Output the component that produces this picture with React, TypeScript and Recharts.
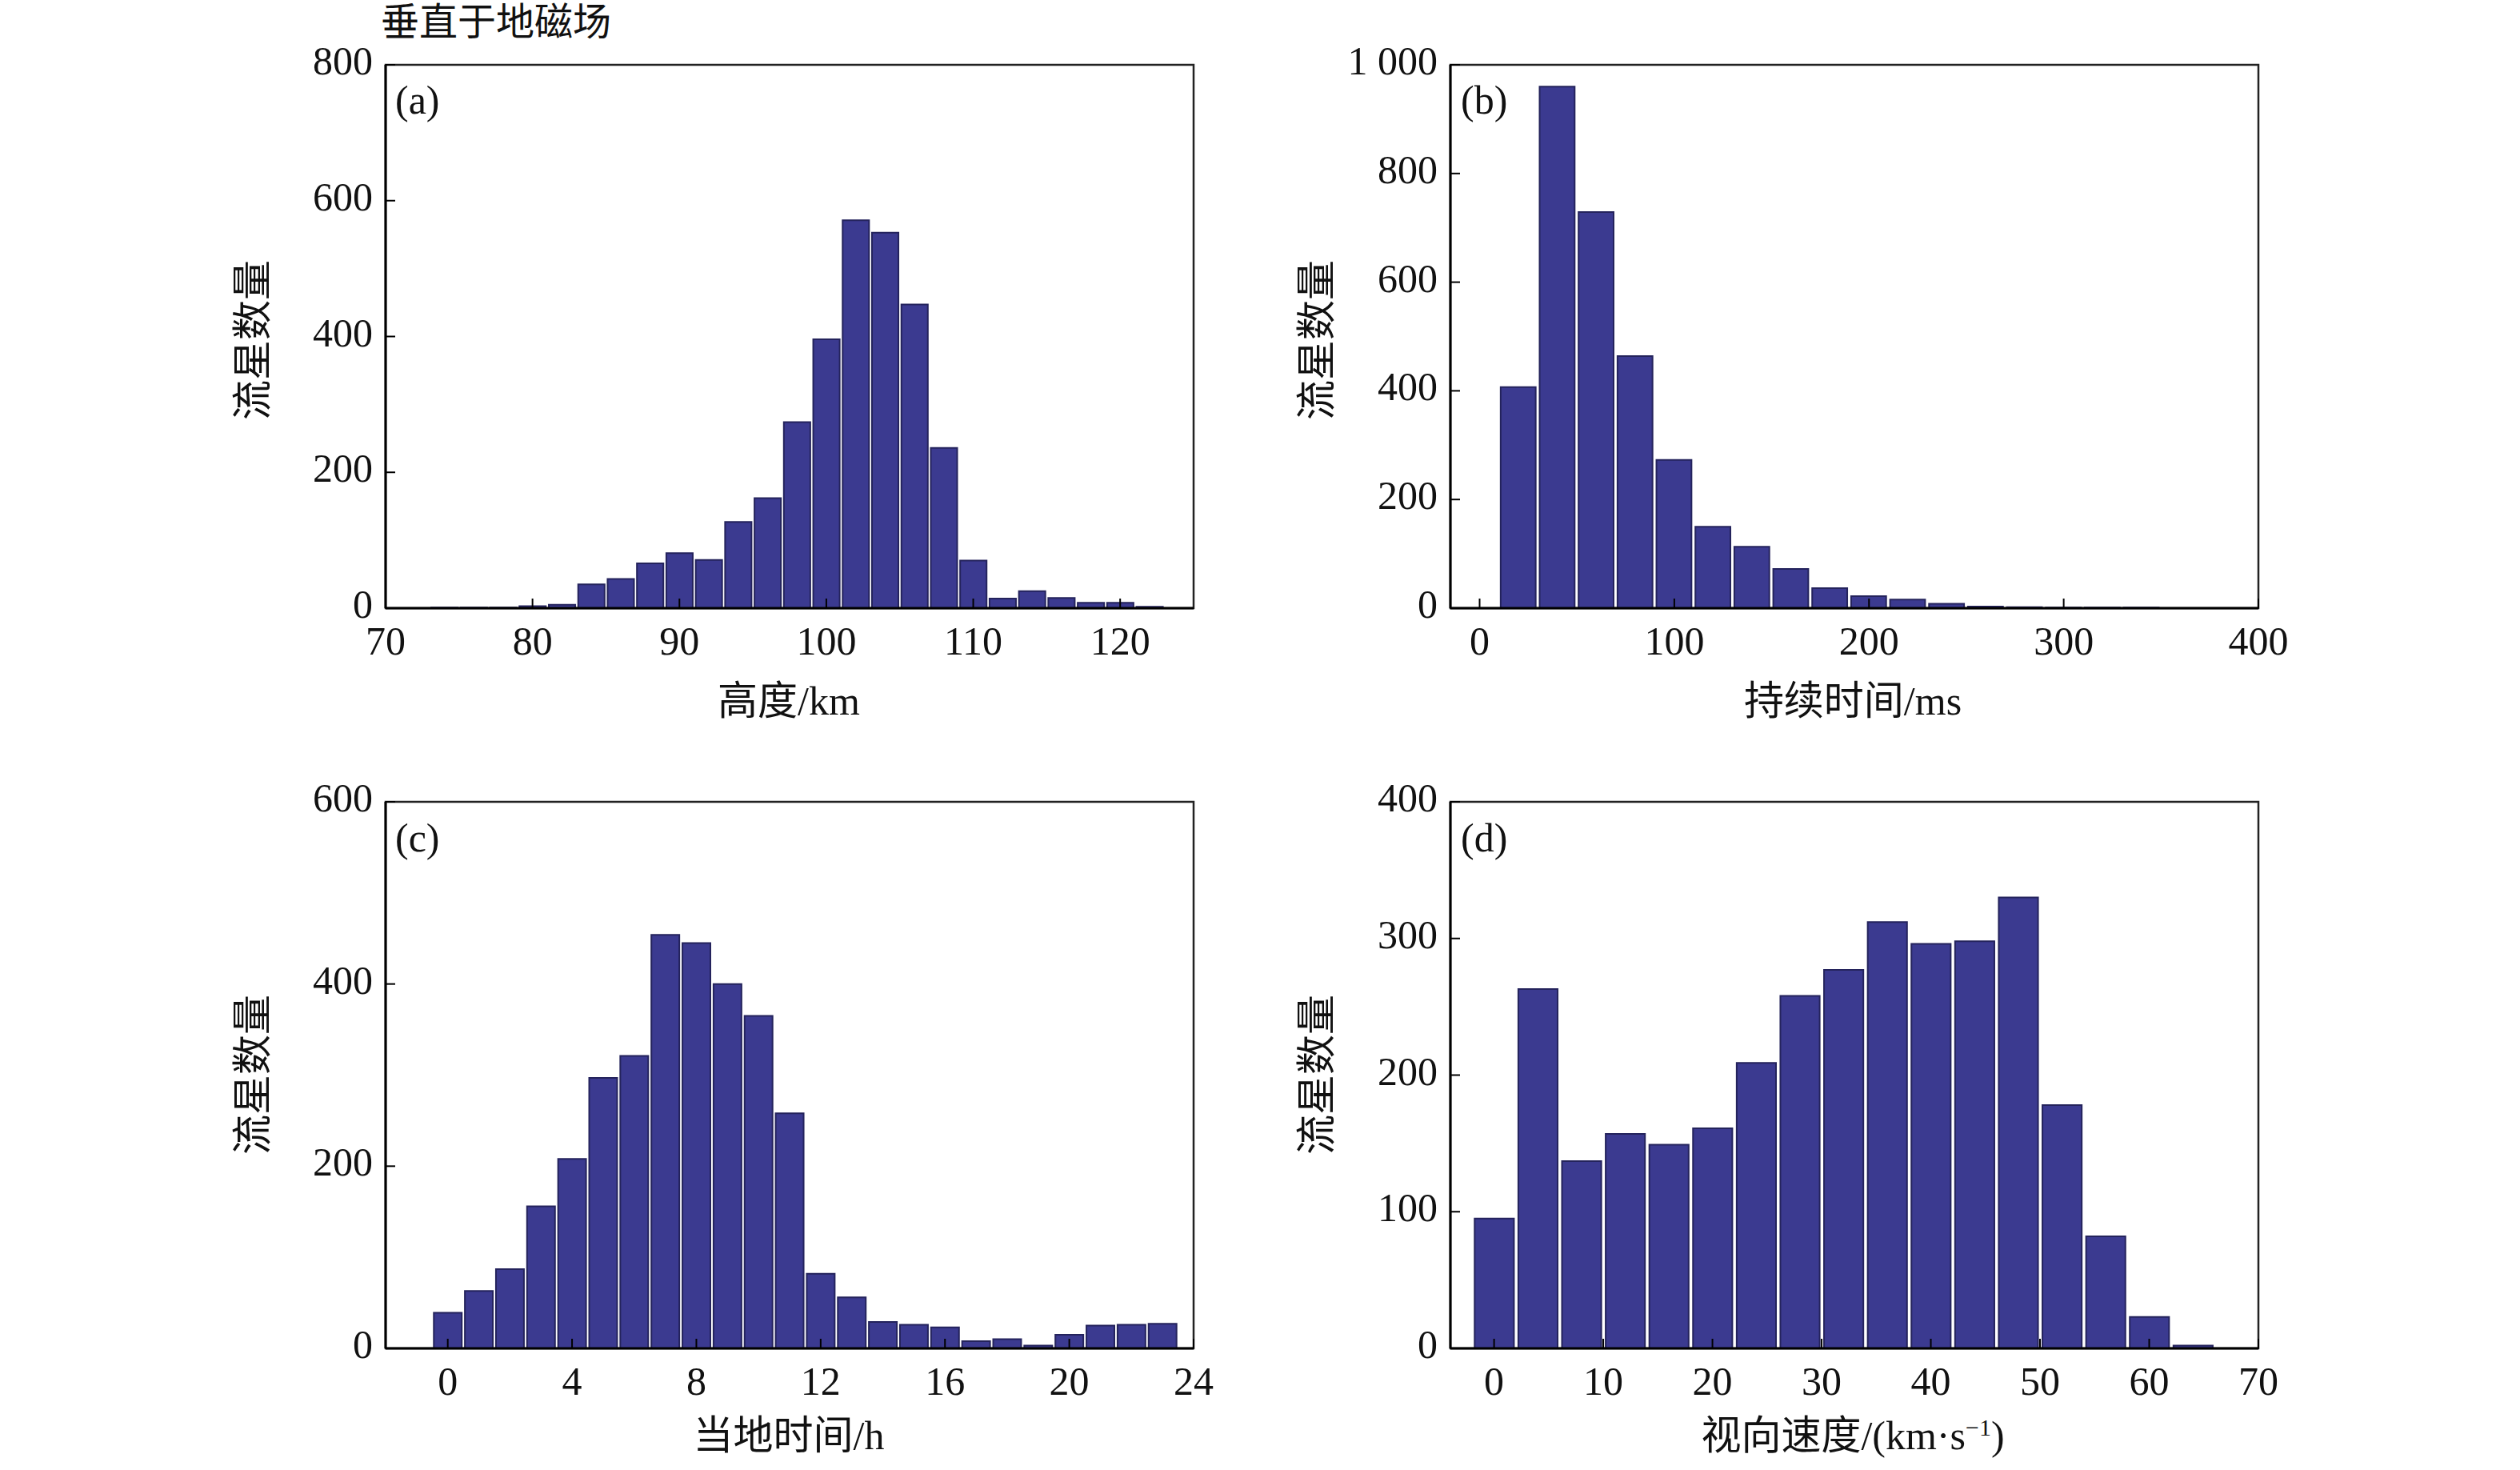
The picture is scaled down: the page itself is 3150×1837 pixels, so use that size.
import React from 'react';
import { BarChart, Bar, XAxis, YAxis, ReferenceArea } from 'recharts';

// (a) altitude, 2 km bins
const altCenters = [74, 76, 78, 80, 82, 84, 86, 88, 90, 92, 94, 96, 98, 100, 102, 104, 106, 108, 110, 112, 114, 116, 118, 120, 122];
const altCounts = [1, 1, 1, 3, 5, 35, 43, 66, 81, 71, 127, 162, 274, 396, 571, 553, 447, 236, 70, 14, 25, 15, 8, 8, 2];
const altTicks = [70, 80, 90, 100, 110, 120];

// (b) duration, 20 ms bins
const durCenters = [20, 40, 60, 80, 100, 120, 140, 160, 180, 200, 220, 240, 260, 280, 300, 320, 340];
const durCounts = [407, 960, 729, 464, 273, 150, 113, 72, 37, 22, 16, 8, 3, 2, 1, 1, 1];
const durTicks = [0, 100, 200, 300, 400];

// (c) local time, 1 h bins
const hourCenters = [0, 1, 2, 3, 4, 5, 6, 7, 8, 9, 10, 11, 12, 13, 14, 15, 16, 17, 18, 19, 20, 21, 22, 23];
const hourCounts = [39, 63, 87, 156, 208, 297, 321, 454, 445, 400, 365, 258, 82, 56, 29, 26, 23, 8, 10, 3, 15, 25, 26, 27];
const hourTicks = [0, 4, 8, 12, 16, 20, 24];

// (d) apparent velocity, 4 km/s bins
const velCenters = [0, 4, 8, 12, 16, 20, 24, 28, 32, 36, 40, 44, 48, 52, 56, 60, 64];
const velCounts = [95, 263, 137, 157, 149, 161, 209, 258, 277, 312, 296, 298, 330, 178, 82, 23, 2];
const velTicks = [0, 10, 20, 30, 40, 50, 60, 70];

const W = 3150;
const H = 1837;
const FONT = '"Liberation Serif", "Noto Sans CJK SC", serif';
const BAR_FILL = '#3b3a90';
const BAR_EDGE = '#24235c';

interface PanelProps {
  centers: number[];
  counts: number[];
  xDomain: [number, number];
  xTicks: number[];
  yMax: number;
  yTicks: number[];
  binWidth: number;
  left: number;
  right: number;
  top: number;
  bottom: number;
  yFormat?: (v: number) => string;
}

const Panel: React.FC<PanelProps> = ({ centers, counts, xDomain, xTicks, yMax, yTicks, binWidth, left, right, top, bottom, yFormat }) => {
  const data = centers.map((c, i) => ({ x: c, n: counts[i] }));
  const plotW = right - left;
  const barSize = (binWidth / (xDomain[1] - xDomain[0])) * plotW;
  const yAxisW = 100;
  const xAxisH = 60;
  const fmt = yFormat ?? ((v: number) => String(v));

  const xTick = (p: any) => (
    <g>
      <line x1={p.x} x2={p.x} y1={bottom} y2={bottom - 12} stroke="#000" strokeWidth={2} />
      <text x={p.x} y={bottom + 58} textAnchor="middle" fontFamily={FONT} fontSize={50} fill="#111">
        {p.payload.value}
      </text>
    </g>
  );
  const yTick = (p: any) => (
    <g>
      <line x1={left} x2={left + 12} y1={p.y} y2={p.y} stroke="#000" strokeWidth={2} />
      <text x={left - 16} y={p.y + 12} textAnchor="end" fontFamily={FONT} fontSize={50} fill="#111">
        {fmt(p.payload.value)}
      </text>
    </g>
  );

  return (
    <div style={{ position: 'absolute', left: 0, top: 0 }}>
      <BarChart
        width={W}
        height={H}
        data={data}
        margin={{ left: left - yAxisW, right: W - right, top, bottom: H - bottom - xAxisH }}
      >
        <XAxis
          dataKey="x"
          type="number"
          domain={xDomain}
          ticks={xTicks}
          allowDataOverflow
          height={xAxisH}
          tickLine={false}
          axisLine={{ stroke: '#000', strokeWidth: 3 }}
          tick={xTick}
          interval={0}
        />
        <YAxis
          domain={[0, yMax]}
          ticks={yTicks}
          allowDataOverflow
          width={yAxisW}
          tickLine={false}
          axisLine={{ stroke: '#000', strokeWidth: 3 }}
          tick={yTick}
          interval={0}
        />
        <Bar dataKey="n" fill={BAR_FILL} stroke={BAR_EDGE} strokeWidth={2} barSize={barSize} isAnimationActive={false} />
        <ReferenceArea x1={xDomain[0]} x2={xDomain[1]} y1={0} y2={yMax} fill="none" stroke="#222" strokeWidth={2.5} />
      </BarChart>
    </div>
  );
};

const txt = (s: string, x: number, y: number, size: number, extra: React.CSSProperties = {}) => (
  <div
    style={{
      position: 'absolute',
      left: x,
      top: y,
      fontFamily: FONT,
      fontSize: size,
      color: '#111',
      whiteSpace: 'nowrap',
      lineHeight: 1,
      ...extra,
    }}
  >
    {s}
  </div>
);

const yTitle = (x: number, y: number) =>
  txt('流星数量', x, y, 50, { transform: 'translate(-50%, -50%) rotate(-90deg)' });
const xTitle = (s: React.ReactNode, x: number, y: number) => (
  <div
    style={{
      position: 'absolute',
      left: x,
      top: y,
      transform: 'translate(-50%, -50%)',
      fontFamily: FONT,
      fontSize: 50,
      color: '#111',
      whiteSpace: 'nowrap',
      lineHeight: 1.1,
    }}
  >
    {s}
  </div>
);

export default function App() {
  return (
    <div style={{ position: 'absolute', left: 0, top: 0, width: W, height: H, background: '#fff', overflow: 'hidden' }}>
      <Panel centers={altCenters} counts={altCounts} xDomain={[70, 125]} xTicks={altTicks} yMax={800} yTicks={[0, 200, 400, 600, 800]} binWidth={2} left={482} right={1492} top={81} bottom={760} />
      <Panel centers={durCenters} counts={durCounts} xDomain={[-15, 400]} xTicks={durTicks} yMax={1000} yTicks={[0, 200, 400, 600, 800, 1000]} binWidth={20} left={1813} right={2823} top={81} bottom={760} yFormat={(v) => (v === 1000 ? '1 000' : String(v))} />
      <Panel centers={hourCenters} counts={hourCounts} xDomain={[-2, 24]} xTicks={hourTicks} yMax={600} yTicks={[0, 200, 400, 600]} binWidth={1} left={482} right={1492} top={1002} bottom={1685} />
      <Panel centers={velCenters} counts={velCounts} xDomain={[-4, 70]} xTicks={velTicks} yMax={400} yTicks={[0, 100, 200, 300, 400]} binWidth={4} left={1813} right={2823} top={1002} bottom={1685} />

      {txt('垂直于地磁场', 476, 4, 48)}
      {txt('(a)', 494, 100, 50)}
      {txt('(b)', 1826, 100, 50)}
      {txt('(c)', 494, 1022, 50)}
      {txt('(d)', 1826, 1022, 50)}

      {yTitle(316, 425)}
      {yTitle(1646, 425)}
      {yTitle(316, 1343)}
      {yTitle(1646, 1343)}

      {xTitle('高度/km', 986, 876)}
      {xTitle('持续时间/ms', 2316, 876)}
      {xTitle('当地时间/h', 986, 1794)}
      {xTitle(<span>视向速度/(km·s<sup style={{ fontSize: 30 }}>−1</sup>)</span>, 2316, 1794)}
    </div>
  );
}
